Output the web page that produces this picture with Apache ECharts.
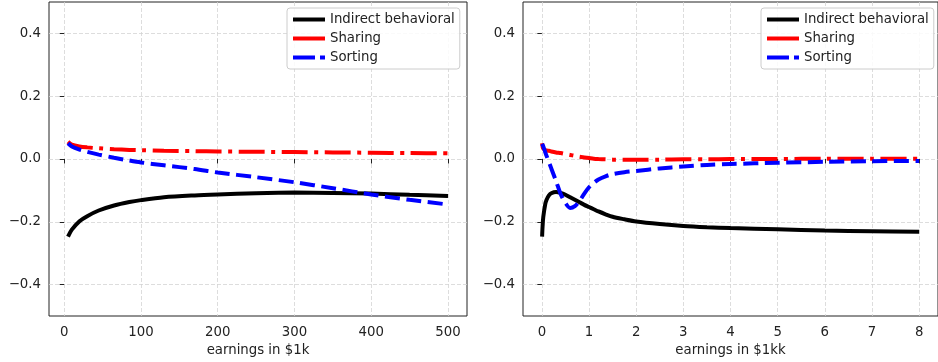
<!DOCTYPE html>
<html>
<head>
<meta charset="utf-8">
<script src="https://cdn.jsdelivr.net/npm/echarts@6/dist/echarts.min.js"></script>
<style>
  html, body { margin: 0; padding: 0; background: #fff; }
  #chart { width: 938px; height: 362px; }
</style>
</head>
<body>
<div id="chart"></div>
<script>
// left panel: earnings in $1k
const leftX = [5, 10, 20, 30, 45, 65, 85, 100, 130, 170, 200, 250, 300, 350, 400, 450, 500];
const leftBehavioral = [-0.247, -0.225, -0.198, -0.182, -0.164, -0.148, -0.137, -0.131, -0.122, -0.116, -0.113, -0.109, -0.107, -0.108, -0.110, -0.114, -0.118];
const leftSharing = [0.055, 0.046, 0.040, 0.037, 0.034, 0.031, 0.029, 0.028, 0.026, 0.025, 0.024, 0.023, 0.022, 0.021, 0.020, 0.019, 0.018];
const leftSorting = [0.050, 0.040, 0.030, 0.023, 0.014, 0.004, -0.005, -0.011, -0.020, -0.032, -0.043, -0.058, -0.074, -0.093, -0.113, -0.130, -0.145];

// right panel: earnings in $1kk
const rightX = [0.005, 0.015, 0.03, 0.07, 0.1, 0.15, 0.2, 0.3, 0.4, 0.5, 0.6, 0.7, 0.8, 0.9, 1.0, 1.1, 1.2, 1.35, 1.5, 1.75, 2.0, 2.5, 3.0, 3.5, 4.0, 5.0, 6.0, 7.0, 8.0];
const rightBehavioral = [-0.247, -0.215, -0.185, -0.145, -0.130, -0.116, -0.109, -0.105, -0.108, -0.114, -0.122, -0.130, -0.138, -0.146, -0.153, -0.160, -0.167, -0.176, -0.184, -0.192, -0.199, -0.207, -0.213, -0.217, -0.220, -0.224, -0.228, -0.230, -0.232];
const rightSharing = [0.050, 0.040, 0.033, 0.029, 0.027, 0.026, 0.024, 0.021, 0.019, 0.016, 0.013, 0.010, 0.007, 0.005, 0.003, 0.001, 0.000, -0.001, -0.002, -0.002, -0.002, -0.002, -0.001, -0.001, 0.000, 0.000, 0.001, 0.001, 0.001];
const rightSorting = [0.048, 0.045, 0.040, 0.022, 0.010, -0.010, -0.030, -0.070, -0.112, -0.140, -0.156, -0.150, -0.133, -0.110, -0.090, -0.076, -0.065, -0.055, -0.048, -0.042, -0.038, -0.030, -0.024, -0.019, -0.016, -0.012, -0.009, -0.007, -0.006];

const leftTicks = [0, 100, 200, 300, 400, 500];
const rightTicks = [0, 1, 2, 3, 4, 5, 6, 7, 8];
const yTicks = [-0.4, -0.2, 0, 0.2, 0.4];

const seriesNames = ['Indirect behavioral', 'Sharing', 'Sorting'];

const FONT = 'DejaVu Sans';
const FS = 13.3;
const TXT = '#222';

const pairs = (xs, ys) => xs.map((x, i) => [x, ys[i]]);
const fmtY = v => (v < 0 ? '\u2212' : '') + Math.abs(v).toFixed(1);

const styles = [
  { color: '#000000', type: 'solid' },
  { color: '#ff0000', type: [26, 6.5, 4, 6.5] },
  { color: '#0000ff', type: [15, 6.5] },
];

function xAxisFor(idx, min, max, ticks, name) {
  return {
    type: 'value', gridIndex: idx, min: min, max: max, name: name,
    nameLocation: 'middle', nameGap: 28,
    nameTextStyle: { fontFamily: FONT, fontSize: FS, color: TXT },
    axisLine: { show: false },
    axisTick: { show: true, length: 4.5, lineStyle: { color: TXT, width: 1 }, customValues: ticks },
    axisLabel: { customValues: ticks, margin: 10, fontFamily: FONT, fontSize: FS, color: TXT },
    splitLine: { show: true, lineStyle: { color: '#d4d4d4', width: 0.8, type: [4, 2] } },
  };
}

function yAxisFor(idx) {
  return {
    type: 'value', gridIndex: idx, min: -0.5, max: 0.5,
    axisLine: { show: false },
    axisTick: { show: true, length: 4.5, lineStyle: { color: TXT, width: 1 }, customValues: yTicks },
    axisLabel: { customValues: yTicks, margin: 8, formatter: fmtY, fontFamily: FONT, fontSize: FS, color: TXT },
    splitLine: { show: true, lineStyle: { color: '#d4d4d4', width: 0.8, type: [4, 2] } },
  };
}

function legendFor(left) {
  return {
    orient: 'vertical', left: left, top: 8,
    data: seriesNames.map((n, i) => ({
      name: n,
      itemStyle: { opacity: 0 },
      lineStyle: { color: styles[i].color, width: 4, type: i === 2 ? [22, 5] : 'solid' },
    })),
    itemWidth: 32, itemHeight: 14, itemGap: 6,
    padding: [5, 5, 5, 4],
    backgroundColor: 'rgba(255,255,255,0.85)',
    borderColor: '#cccccc', borderWidth: 1, borderRadius: 3,
    textStyle: { fontFamily: FONT, fontSize: FS, color: TXT },
    selectedMode: false,
  };
}

function lineSeries(i, xIdx, xs, ys) {
  return {
    name: seriesNames[i], type: 'line', xAxisIndex: xIdx, yAxisIndex: xIdx,
    data: pairs(xs, ys),
    symbol: 'none', showSymbol: false, smooth: 0.3,
    lineStyle: { color: styles[i].color, width: 4, type: styles[i].type, cap: 'butt' },
    itemStyle: { color: styles[i].color },
    z: 3,
  };
}

const chart = echarts.init(document.getElementById('chart'), null, { renderer: 'canvas' });

chart.setOption({
  animation: false,
  textStyle: { fontFamily: FONT },
  grid: [
    { left: 49, top: 2, width: 418, height: 314, show: true, borderColor: '#222', borderWidth: 1, backgroundColor: 'transparent' },
    { left: 523, top: 2, width: 418, height: 314, show: true, borderColor: '#222', borderWidth: 1, backgroundColor: 'transparent' },
  ],
  xAxis: [
    xAxisFor(0, -19.75, 524.75, leftTicks, 'earnings in $1k'),
    xAxisFor(1, -0.4, 8.4, rightTicks, 'earnings in $1kk'),
  ],
  yAxis: [yAxisFor(0), yAxisFor(1)],
  legend: [legendFor(287), legendFor(761)],
  series: [
    lineSeries(0, 0, leftX, leftBehavioral),
    lineSeries(1, 0, leftX, leftSharing),
    lineSeries(2, 0, leftX, leftSorting),
    lineSeries(0, 1, rightX, rightBehavioral),
    lineSeries(1, 1, rightX, rightSharing),
    lineSeries(2, 1, rightX, rightSorting),
  ],
});

window.addEventListener('resize', () => chart.resize());
</script>
</body>
</html>
